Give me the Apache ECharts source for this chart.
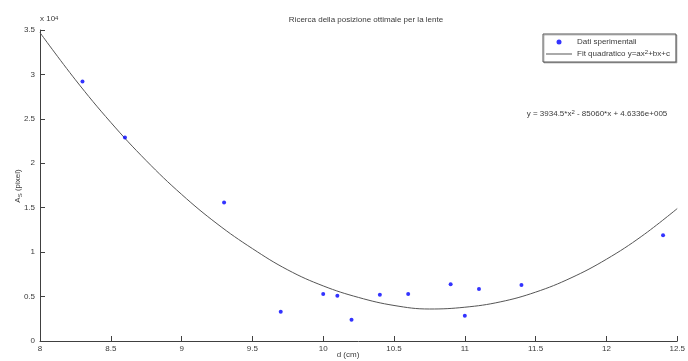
<!DOCTYPE html>
<html>
<head>
<meta charset="utf-8">
<script src="https://cdn.jsdelivr.net/npm/echarts@6/dist/echarts.min.js"></script>
<style>html,body{margin:0;padding:0;background:#fff}#c{width:688px;height:361px}</style>
</head>
<body>
<div id="c"></div>
<script>
// Measured data (y in units of 10^4 pixel)
var dX = [8.3, 8.6, 9.3, 9.7, 10.0, 10.1, 10.2, 10.4, 10.6, 10.9, 11.0, 11.1, 11.4, 12.4];
var dY = [2.92, 2.29, 1.56, 0.33, 0.53, 0.51, 0.24, 0.52, 0.53, 0.64, 0.285, 0.585, 0.63, 1.19];
// Fitted curve (x 10^4)
var fitX = [8, 8.25, 8.5, 8.75, 9, 9.25, 9.5, 9.75, 10, 10.25, 10.5, 10.75, 11, 11.25, 11.5, 11.75, 12, 12.25, 12.5];
var fitY = [3.47, 2.94, 2.46, 2.03, 1.65, 1.32, 1.04, 0.80, 0.62, 0.49, 0.40, 0.36, 0.38, 0.44, 0.55, 0.71, 0.92, 1.18, 1.49];
var xTicks = [8, 8.5, 9, 9.5, 10, 10.5, 11, 11.5, 12, 12.5];
var yTicks = [0, 0.5, 1, 1.5, 2, 2.5, 3, 3.5];

var FONT = '"Liberation Sans", Arial, Helvetica, sans-serif';
var TXT = '#3a3a3a';
var AX = '#404040';

var chart = echarts.init(document.getElementById('c'));
chart.setOption({
  animation: false,
  backgroundColor: '#fff',
  textStyle: {fontFamily: FONT},
  title: {
    text: 'Ricerca della posizione ottimale per la lente',
    left: 361, textAlign: 'center', top: 11,
    textStyle: {fontSize: 8, fontWeight: 'normal', color: TXT, fontFamily: FONT}
  },
  grid: {left: 40, right: 4.5, top: 30, bottom: 20},
  legend: {
    orient: 'vertical', left: 543, top: 34,
    padding: [3, 6, 3, 3], itemGap: 2,
    itemWidth: 26, itemHeight: 5,
    borderColor: '#555', borderWidth: 1, backgroundColor: '#fff',
    shadowColor: 'rgba(0,0,0,0.25)', shadowOffsetX: 1, shadowOffsetY: 1, shadowBlur: 0,
    data: [
      {name: 'Dati sperimentali', icon: 'circle'},
      {name: 'Fit', icon: 'path://M0,0L26,0L26,1L0,1Z'}
    ],
    formatter: function (n) {
      return n === 'Fit' ? 'Fit quadratico y=ax{sup|2}+bx+c' : n;
    },
    textStyle: {
      fontSize: 8, color: TXT, fontFamily: FONT, lineHeight: 10,
      rich: {sup: {fontSize: 6, lineHeight: 6, verticalAlign: 'top', color: TXT, fontFamily: FONT}}
    }
  },
  xAxis: {
    type: 'value', min: 8, max: 12.5, interval: 0.5,
    axisLine: {lineStyle: {color: AX, width: 1}},
    axisTick: {inside: true, length: 5, lineStyle: {color: AX}},
    axisLabel: {fontSize: 8, color: TXT, margin: 4, fontFamily: FONT,
      formatter: function (v) { return String(+v.toFixed(2)); }},
    splitLine: {show: false}
  },
  yAxis: {
    type: 'value', min: 0, max: 3.5, interval: 0.5,
    axisLine: {show: true, lineStyle: {color: AX, width: 1}},
    axisTick: {show: true, inside: true, length: 5, lineStyle: {color: AX}},
    axisLabel: {fontSize: 8, color: TXT, margin: 5, fontFamily: FONT,
      formatter: function (v) { return String(+v.toFixed(2)); }},
    splitLine: {show: false}
  },
  graphic: [
    {type: 'text', left: 40, top: 15, style: {
      text: 'x 10{sup|4}', fill: TXT, font: '8px ' + FONT,
      rich: {sup: {fontSize: 6, lineHeight: 6, verticalAlign: 'top', fill: TXT}}
    }},
    {type: 'text', x: 18, y: 186, rotation: Math.PI / 2, style: {
      text: 'A{sub|S} (pixel)', fill: TXT, font: '8px ' + FONT,
      align: 'center', verticalAlign: 'middle', lineHeight: 10,
      rich: {sub: {fontSize: 6, lineHeight: 6, verticalAlign: 'bottom', fill: TXT}}
    }},
    {type: 'text', x: 348, y: 355, style: {
      text: 'd (cm)', fill: TXT, font: '8px ' + FONT, align: 'center', verticalAlign: 'middle'
    }},
    {type: 'text', x: 597, y: 114, style: {
      text: 'y = 3934.5*x{sup|2} - 85060*x + 4.6336e+005', fill: TXT, font: '8px ' + FONT,
      align: 'center', verticalAlign: 'middle', lineHeight: 10,
      rich: {sup: {fontSize: 6, lineHeight: 6, verticalAlign: 'top', fill: TXT}}
    }}
  ],
  series: [
    {
      name: 'Fit', type: 'line', smooth: 0.4, symbol: 'none',
      data: fitX.map(function (x, i) { return [x, fitY[i]]; }),
      lineStyle: {color: '#555', width: 1}, itemStyle: {color: '#555'}, z: 2
    },
    {
      name: 'Dati sperimentali', type: 'scatter', symbol: 'circle', symbolSize: 4,
      data: dX.map(function (x, i) { return [x, dY[i]]; }),
      itemStyle: {color: '#0000ff'}, z: 3
    }
  ]
});
</script>
</body>
</html>
